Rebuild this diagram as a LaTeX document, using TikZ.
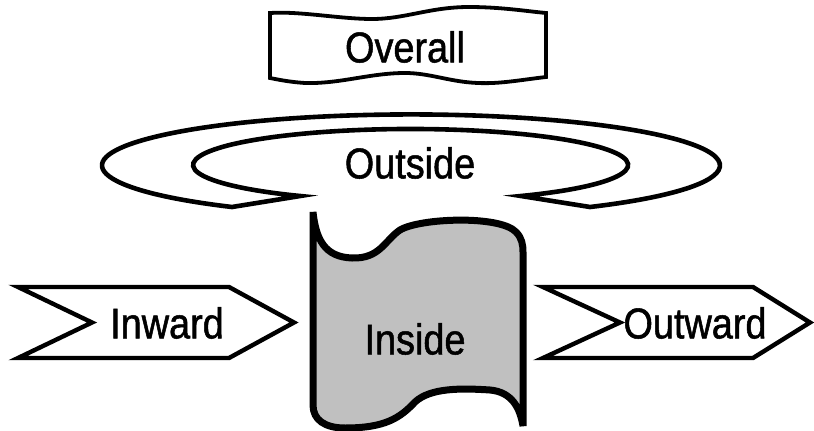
\documentclass[tikz,border=0pt]{standalone}
\usepackage{fontspec}
\setmainfont{Liberation Sans}[FakeStretch=0.88,FakeBold=1.2]
\usepackage{tikz}
\pgfkeys{
  /chevron/.cd,
  left/.initial=0,
  notch/.initial=70,
  corner/.initial=210,
  tip/.initial=275,
  top/.initial=287,
  bottom/.initial=358,
}
\makeatletter
\newcommand{\chevron}[1][]{
  {
    \pgfkeys{
      /chevron/.cd,
      #1,
      /chevron/left/.get=\chevron@left,
      /chevron/notch/.get=\chevron@notch,
      /chevron/corner/.get=\chevron@corner,
      /chevron/tip/.get=\chevron@tip,
      /chevron/top/.get=\chevron@top,
      /chevron/bottom/.get=\chevron@bottom
    }
    \pgfmathsetmacro\chevron@mid{(\chevron@top+\chevron@bottom)/2}
    \draw[arrowrim] (\chevron@left,\chevron@top) -- (\chevron@corner,\chevron@top)
      -- (\chevron@tip,\chevron@mid) -- (\chevron@corner,\chevron@bottom)
      -- (\chevron@left,\chevron@bottom) -- (\chevron@notch,\chevron@mid) -- cycle;
  }
}
\makeatother
\tikzset{
  rim/.style={line width=3.8pt,fill=white},
  ringrim/.style={line width=4.6pt,fill=white},
  arrowrim/.style={line width=4.4pt,fill=white},
  tape/.style={line width=7pt,fill=tapegray},
  word/.style={font=\fontsize{43}{43}\selectfont,inner sep=0pt}
}
\definecolor{tapegray}{RGB}{192,192,192}

\begin{document}
\begin{tikzpicture}[x=1pt,y=-1pt]
      \useasboundingbox (0,0) rectangle (814,431);

      % wavy banner on top
      \draw[rim] (270,13) .. controls (300,11) and (340,19) .. (372,19)
        .. controls (405,19) and (430,7) .. (469,7)
        .. controls (500,7) and (525,11) .. (546,13) -- (546,77)
        .. controls (520,80) and (500,84) .. (478,83)
        .. controls (450,82) and (430,73) .. (405,73)
        .. controls (370,73) and (340,84) .. (305,83)
        .. controls (290,82) and (280,80) .. (270,78) -- cycle;
      \node[word] (overall) at (405,47) {Overall};

      % ring, open at the front
      \draw[ringrim] (232,207) arc [start angle=125.4,end angle=414.6,x radius=309,y radius=51]
        -- (521,196) arc [start angle=59.5,end angle=-239.5,x radius=217.5,y radius=36] -- cycle;
      \node[word] (outside) at (410,163) {Outside};

      % grey tape in the middle
      \draw[tape] (313,212) .. controls (316,240) and (325,257) .. (352,258)
        .. controls (380,259) and (385,240) .. (400,230)
        .. controls (420,218) and (500,215) .. (516,232)
        .. controls (522,238) and (523,245) .. (523,252) -- (523,426)
        .. controls (520,408) and (512,392) .. (490,390)
        .. controls (460,388) and (430,388) .. (415,402)
        .. controls (400,418) and (385,428) .. (345,428)
        .. controls (325,428) and (313,420) .. (313,405) -- cycle;
      \node[word] (inside) at (415,339) {Inside};

      \chevron[/chevron/left=18,/chevron/notch=92,/chevron/corner=229,/chevron/tip=294]
      \node[word] (inward) at (167,323) {Inward};

      \chevron[/chevron/left=543,/chevron/notch=620,/chevron/corner=753,/chevron/tip=810]
      \node[word] (outward) at (695,323) {Outward};
    \end{tikzpicture}
\end{document}
